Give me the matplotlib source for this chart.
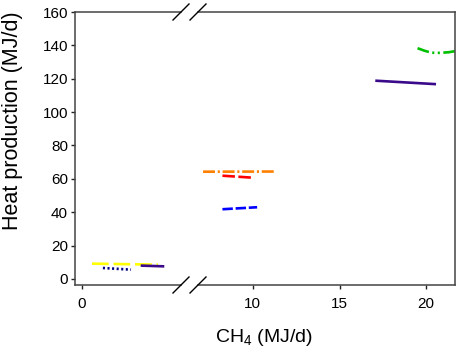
import matplotlib
matplotlib.use("Agg")
import matplotlib.pyplot as plt
from matplotlib.lines import Line2D

plt.rcParams['font.family'] = ['Liberation Sans', 'DejaVu Sans']
plt.rcParams['mathtext.default'] = 'regular'
plt.rcParams['lines.scale_dashes'] = False

# ---- data (CH4 MJ/d vs heat production MJ/d) ----
yellow_x = [0.61, 4.49]
yellow_y = [9.2, 8.6]
navy_x = [1.25, 2.9]
navy_y = [6.6, 5.6]
purple_l_x = [3.55, 4.78]
purple_l_y = [8.0, 7.6]
orange_x = [7.13, 11.3]
orange_y = [64.3, 64.4]
red_x = [8.25, 10.0]
red_y = [61.9, 60.7]
blue_x = [8.25, 10.25]
blue_y = [41.8, 43.0]
purple_r_x = [17.14, 20.49]
purple_r_y = [118.8, 116.8]
green_x = [19.5, 19.9, 20.3, 20.8, 21.3, 21.65]
green_y = [138.3, 136.8, 135.6, 135.5, 135.9, 136.5]

left_xlim = (-0.39, 5.84)
right_xlim = (6.84, 21.66)
ylim = (-3.6, 160)
yticks = [0, 20, 40, 60, 80, 100, 120, 140, 160]
left_xticks = [0]
right_xticks = [10, 15, 20]

W, H = 457, 352
fig = plt.figure(figsize=(W / 100, H / 100), dpi=100)

def fx(px):
    return px / W

def fy(py):
    return 1 - py / H

top, bot = 12, 285
axL = fig.add_axes([fx(75), fy(bot), fx(181) - fx(75), fy(top) - fy(bot)])
axR = fig.add_axes([fx(198), fy(bot), fx(455) - fx(198), fy(top) - fy(bot)])

spine_c = '#444444'
lw = 1.9
for ax in (axL, axR):
    ax.set_ylim(*ylim)
    for s in ax.spines.values():
        s.set_color(spine_c)
        s.set_linewidth(1.1)
    ax.tick_params(direction='out', length=3, width=1.0, color='#222222',
                   labelsize=11, labelcolor='black')
    ax.tick_params(axis='x', pad=6)
    ax.tick_params(axis='y', pad=2)

axL.set_xlim(*left_xlim)
axR.set_xlim(*right_xlim)
axL.spines['right'].set_visible(False)
axR.spines['left'].set_visible(False)
axR.tick_params(axis='y', left=False, labelleft=False)
axL.set_yticks(yticks)
axL.set_xticks(left_xticks)
axR.set_xticks(right_xticks)

# left group
axL.plot(yellow_x, yellow_y, color='#FFFF00', lw=lw, dashes=(12, 3.5), solid_capstyle='butt')
axL.plot(navy_x, navy_y, color='#000080', lw=lw, dashes=(1.5, 1.8), dash_capstyle='butt')
axL.plot(purple_l_x, purple_l_y, color='#3A0A8A', lw=lw)

# right group
axR.plot(orange_x, orange_y, color='#FF8000', lw=lw, dashes=(8.6, 2.0, 1.5, 2.0), dash_capstyle='butt')
axR.plot(red_x, red_y, color='#FF0000', lw=lw, dashes=(9.0, 2.5), dash_capstyle='butt')
axR.plot(blue_x, blue_y, color='#0000FF', lw=lw, dashes=(7.5, 2.0), dash_capstyle='butt')
axR.plot(purple_r_x, purple_r_y, color='#3A0A8A', lw=lw)
axR.plot(green_x, green_y, color='#00C000', lw=lw, dashes=(8.6, 2.5, 1.5, 2.5, 1.5, 2.5), dash_capstyle='butt')

# break marks
for yc in (top, bot):
    for x0 in (173, 190):
        fig.add_artist(Line2D([fx(x0), fx(x0 + 16)], [fy(yc + 8), fy(yc - 8)],
                              color='black', lw=1.0))

fig.text(fx(13), fy(121), 'Heat production (MJ/d)', rotation=90,
         ha='center', va='center', fontsize=15.5)
fig.text(fx(264), fy(338), 'CH$_4$ (MJ/d)', ha='center', va='center', fontsize=14)

fig.savefig('out.png', dpi=100)
